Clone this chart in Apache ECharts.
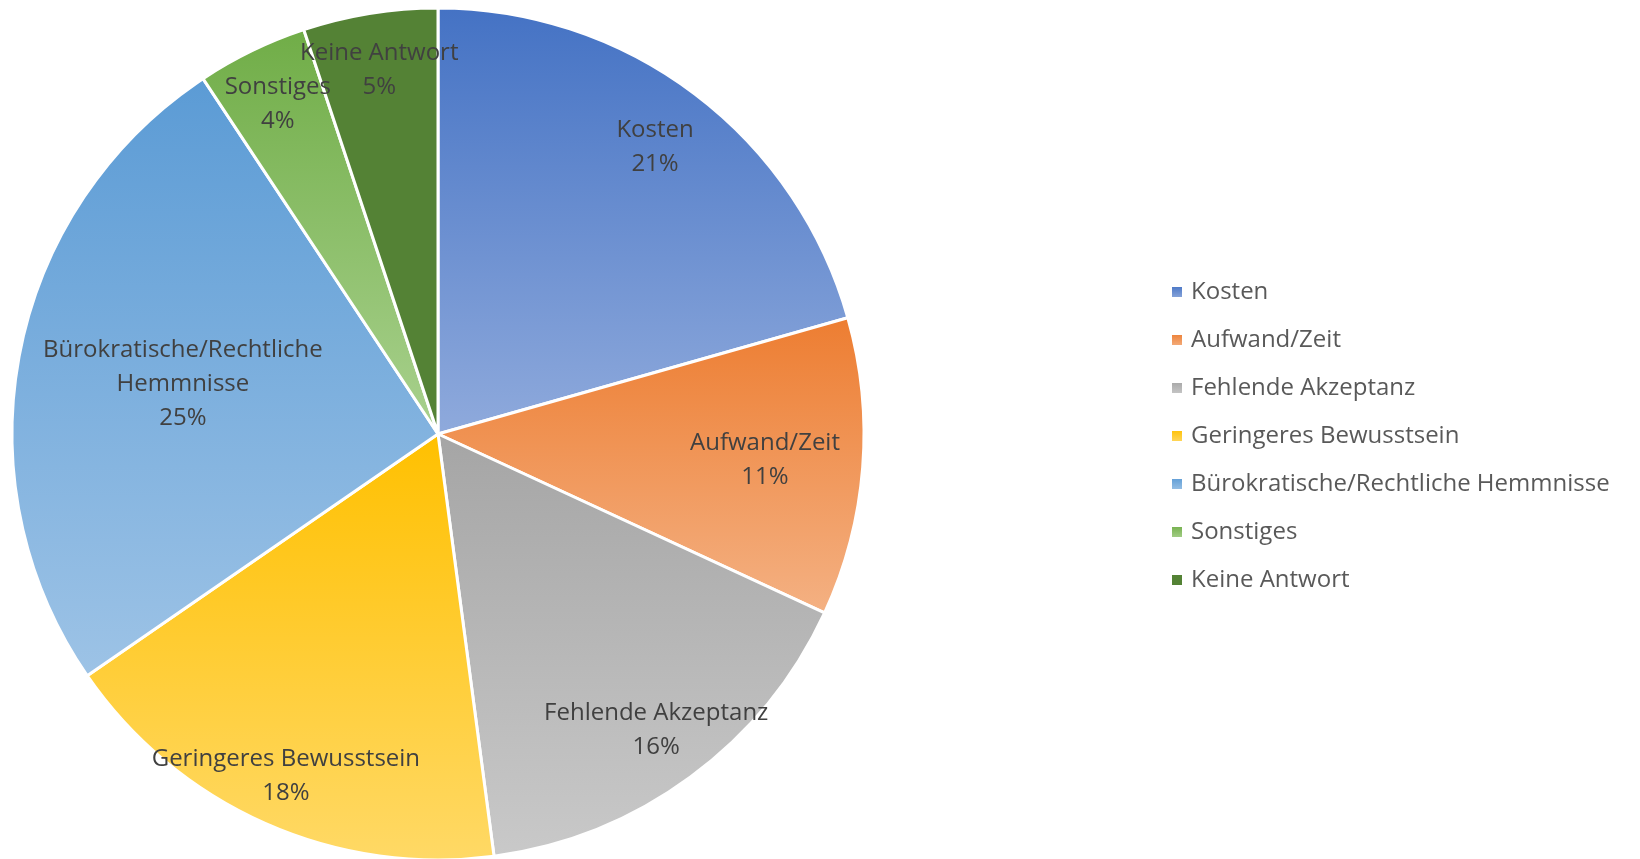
<!DOCTYPE html>
<html>
<head>
<meta charset="utf-8">
<script src="https://cdn.jsdelivr.net/npm/echarts@6/dist/echarts.min.js"></script>
<style>
  html, body { margin: 0; padding: 0; background: #fff; }
  #chart { width: 1640px; height: 859px; }
</style>
</head>
<body>
<div id="chart"></div>
<script>
// Kategorien und Anteile (in %)
var categories = ['Kosten', 'Aufwand/Zeit', 'Fehlende Akzeptanz', 'Geringeres Bewusstsein',
	'Bürokratische/Rechtliche Hemmnisse', 'Sonstiges', 'Keine Antwort'];
var shares = [20.6, 11.3, 16.0, 17.5, 25.3, 4.2, 5.1];
var labelNames = ['Kosten', 'Aufwand/Zeit', 'Fehlende Akzeptanz', 'Geringeres Bewusstsein',
	'Bürokratische/Rechtliche\nHemmnisse', 'Sonstiges', 'Keine Antwort'];

// Farbverlauf je Segment (oben -> unten)
var colorTop = ['#4472C4', '#ED7D31', '#A5A5A5', '#FFC000', '#5B9BD5', '#70AD47', '#548235'];
var colorBottom = ['#8FAADC', '#F4B183', '#C9C9C9', '#FFD966', '#9DC3E6', '#A9D18E', '#548235'];

// Lage der Beschriftungen (Anteil des Radius)
var labelRadius = [0.845, 0.77, 0.864, 0.88, 0.61, 0.86, 0.865];

var cx = 438, cy = 434, R = 426;

function grad(i) {
	return new echarts.graphic.LinearGradient(0, 0, 0, 1, [
		{ offset: 0, color: colorTop[i] },
		{ offset: 1, color: colorBottom[i] }
	]);
}

var total = shares.reduce(function (a, b) { return a + b; }, 0);
var midAngle = [];
var acc = 0;
for (let i = 0; i < shares.length; i++) {
	midAngle.push((acc + shares[i] / 2) / total * 360);
	acc += shares[i];
}

var pieData = [];
for (let i = 0; i < categories.length; i++) {
	pieData.push({
		name: categories[i],
		value: shares[i],
		itemStyle: { color: grad(i) }
	});
}

let chart = echarts.init(document.getElementById('chart'));

let option = {
	animation: false,
	legend: {
		orient: 'vertical',
		left: 1165,
		top: 275,
		itemWidth: 12,
		itemHeight: 12,
		itemGap: 24,
		icon: 'rect',
		data: categories,
		textStyle: {
			fontFamily: 'Open Sans',
			fontSize: 24,
			lineHeight: 24,
			color: '#595959',
			padding: [0, 0, 0, 3]
		}
	},
	series: [{
		type: 'pie',
		center: [cx, cy],
		radius: [0, R],
		startAngle: 90,
		clockwise: true,
		avoidLabelOverlap: false,
		data: pieData,
		itemStyle: {
			borderColor: '#fff',
			borderWidth: 3
		},
		label: {
			show: true,
			position: 'inside',
			fontFamily: 'Open Sans',
			fontSize: 24,
			lineHeight: 34,
			color: '#404040',
			align: 'center',
			formatter: function (p) {
				return labelNames[p.dataIndex] + '\n' + Math.round(p.percent) + '%';
			}
		},
		labelLine: { show: false },
		labelLayout: function (p) {
			var i = p.dataIndex;
			var a = midAngle[i] * Math.PI / 180;
			var r = R * labelRadius[i];
			return {
				x: cx + r * Math.sin(a),
				y: cy - r * Math.cos(a),
				align: 'center',
				verticalAlign: 'middle',
				hideOverlap: false
			};
		}
	}]
};

chart.setOption(option);
</script>
</body>
</html>
